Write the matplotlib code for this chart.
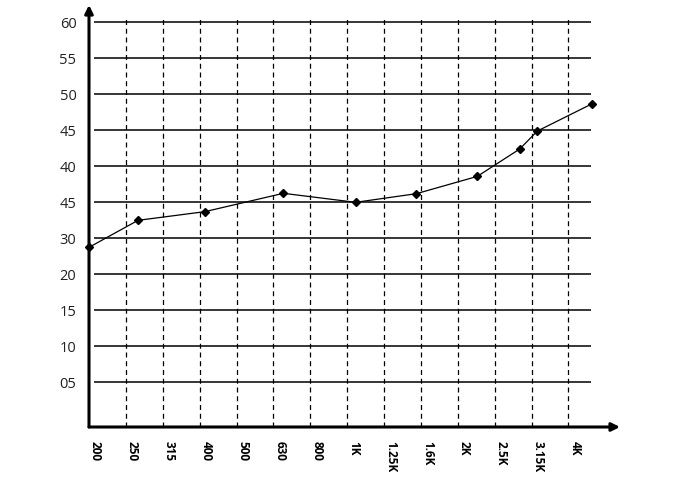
import matplotlib.pyplot as plt
import numpy as np

# 1/3オクターブの周波数ラベル
freq_labels = ["200", "250", "315", "400", "500", "630", "800", "1K",
               "1.25K", "1.6K", "2K", "2.5K", "3.15K", "4K"]
freqs = 200 * 2 ** (np.arange(len(freq_labels)) / 3)

# 縦軸（元画像のラベルのまま）
y_ticks = [5, 10, 15, 20, 25, 30, 35, 40, 45, 50, 55]
y_labels = ["05", "10", "15", "20", "30", "45", "40", "45", "50", "55", "60"]

# 測定点
x_data = [200, 272, 413, 676, 1063, 1556, 2278, 2972, 3320, 4684]
y_data = [23.75, 27.5, 28.7, 31.25, 30.0, 31.2, 33.6, 37.4, 39.9, 43.7]

plt.rcParams['font.family'] = ['Open Sans', 'DejaVu Sans']

fig = plt.figure(figsize=(6.79, 4.79), dpi=100)
ax = fig.add_axes([89 / 679, 52 / 479, 531 / 679, 422 / 479])
ax.set_xscale('log')
ax.set_xlim(200, 200 * 2 ** 4.8)
ax.set_ylim(-1.2, 57.4)

# 横線（実線）
ax.hlines(y_ticks, 206.5, 4640, colors='black', lw=1.1, zorder=1)
# 縦線（破線）
ax.vlines(freqs[1:], -1.2, 55.9, colors='black', lw=0.9,
          linestyles=(0, (4, 3)), zorder=1)

ax.plot(x_data, y_data, color='black', lw=0.9, marker='D', ms=4.5,
        zorder=3, clip_on=False)

for s in ax.spines.values():
    s.set_visible(False)

# 矢印つきの軸
ax.annotate('', xy=(1, 0), xytext=(0, 0), xycoords='axes fraction',
            arrowprops=dict(arrowstyle='-|>', lw=2.2, color='black',
                            mutation_scale=12, shrinkA=0, shrinkB=0))
ax.annotate('', xy=(0, 1), xytext=(0, 0), xycoords='axes fraction',
            arrowprops=dict(arrowstyle='-|>', lw=2.2, color='black',
                            mutation_scale=12, shrinkA=0, shrinkB=0))

ax.xaxis.set_minor_locator(plt.NullLocator())
ax.set_xticks(freqs)
ax.set_xticklabels(freq_labels, rotation=270, ha='left', va='top',
                   fontsize=8.5, fontweight='bold')
ax.set_yticks(y_ticks)
ax.set_yticklabels(y_labels, fontsize=10.5, color='#222222')
ax.tick_params(axis='both', length=0)
ax.tick_params(axis='x', pad=10)
ax.tick_params(axis='y', pad=9)

fig.savefig('out.png', dpi=100)
